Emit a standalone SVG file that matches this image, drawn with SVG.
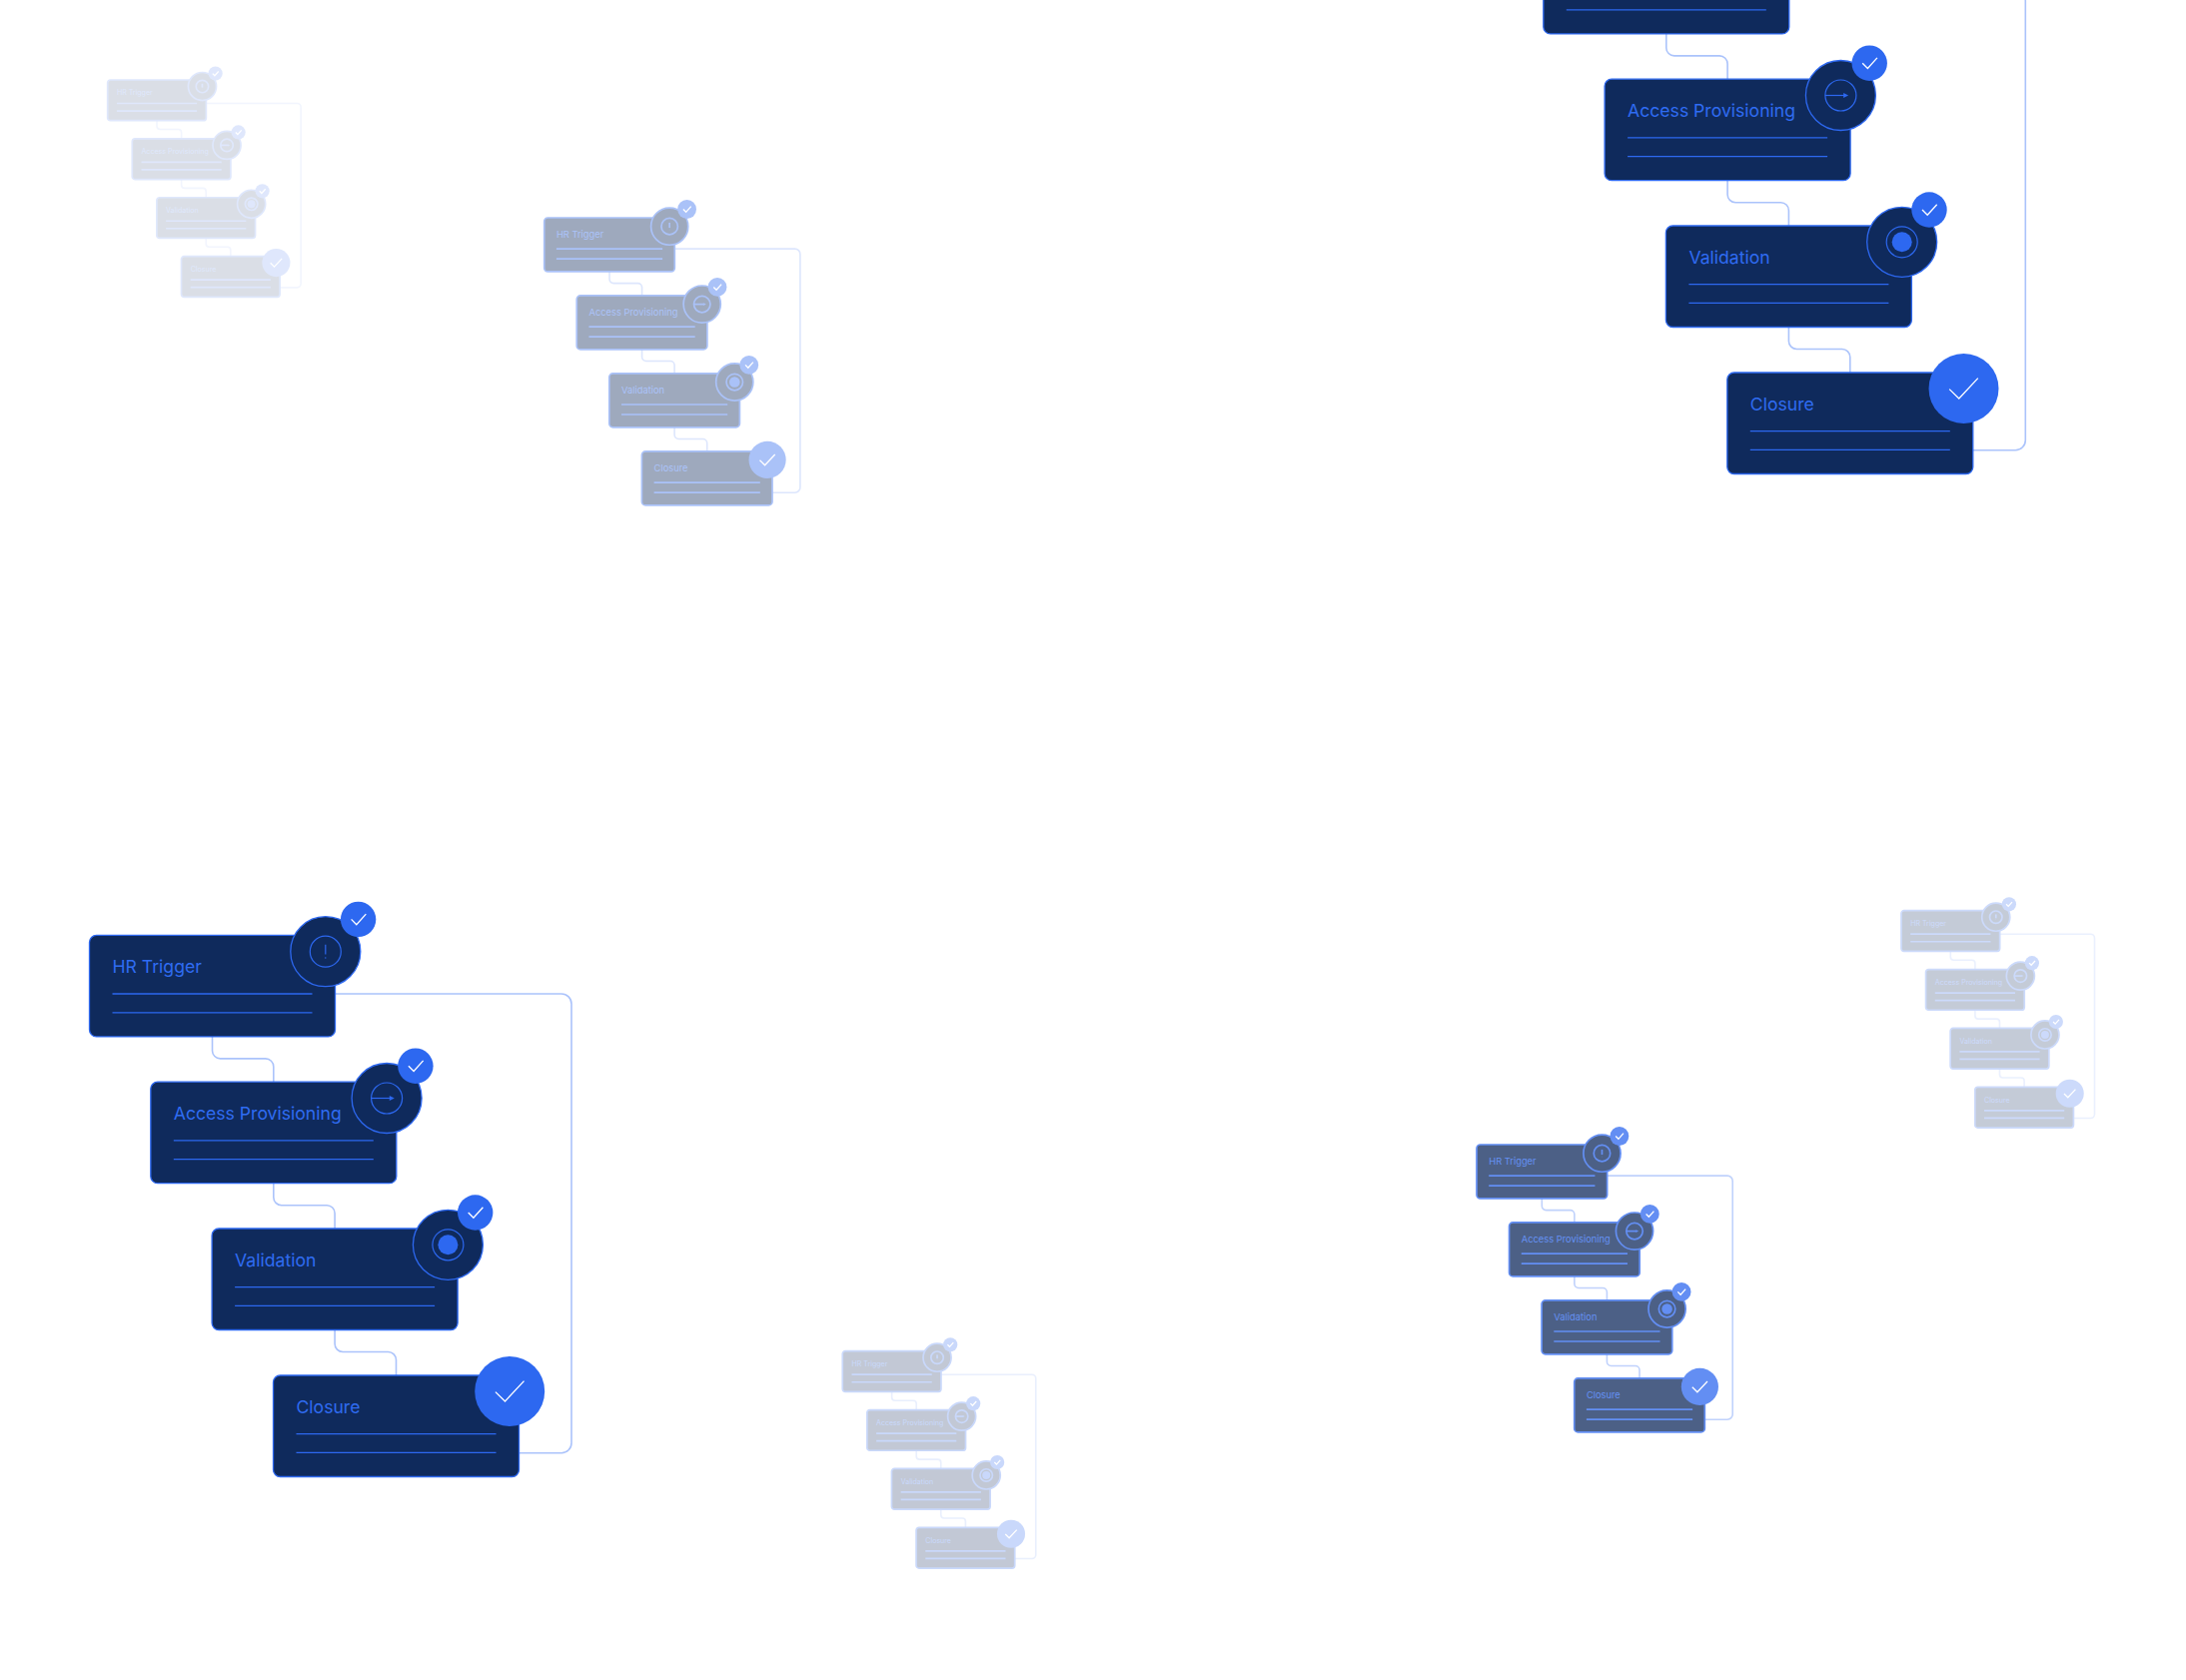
<svg xmlns="http://www.w3.org/2000/svg" width="2188" height="1682" viewBox="0 0 2188 1682">
<style>
.card,.ln,.disc,.ic,.ck,.cn{vector-effect:non-scaling-stroke}
.card{fill:#0f2a5c;stroke:#2d68f0;stroke-width:var(--sw,1.3)}
.t{font-family:Inter,"Liberation Sans",sans-serif;font-size:17.6px;font-weight:400;fill:#2f6cf2}
.ln{stroke:#2d68f0;stroke-width:var(--sw,1.3);fill:none}
.disc{fill:#0f2a5c;stroke:#2d68f0;stroke-width:var(--sw,1.3)}
.ic{fill:none;stroke:#2d68f0;stroke-width:var(--sw,1.2)}
.dot{fill:#2d68f0}
.ck{fill:none;stroke:#fff;stroke-width:1.3}
.cn{fill:none;stroke:#abc3fb;stroke-width:1.6}
.s{--sw:1.7}
</style>
<defs>
<rect id="card" class="card" x="0" y="0" width="246" height="101.5" rx="7"/>
<g id="lines"><path class="ln" d="M23 58.6H223M23 77.4H223"/></g>
<g id="chk"><circle class="dot" cx="263.6" cy="-16" r="17.7"/><path class="ck" d="M256.6-16L261.8-10.7L271.3-21.3"/></g>
<g id="b1"><circle class="disc" cx="236.3" cy="16.3" r="35"/><circle class="ic" cx="236.3" cy="16.3" r="15.5"/><path class="ic" d="M236.3 9.3V19"/><circle class="dot" cx="236.3" cy="22.6" r="0.7"/><use href="#chk" x="5.5"/></g>
<g id="b2"><circle class="disc" cx="236.3" cy="16.3" r="35"/><circle class="ic" cx="236.3" cy="16.3" r="15.5"/><path class="ic" d="M220.8 16.3H240"/><path class="dot" d="M239 13.8L244 16.3L239 18.8Z"/><use href="#chk" x="1.5"/></g>
<g id="b3"><circle class="disc" cx="236.3" cy="16.3" r="35"/><circle class="ic" cx="236.3" cy="16.3" r="15.5"/><circle class="dot" cx="236.3" cy="16.3" r="10"/><use href="#chk"/></g>
<g id="b4"><circle class="dot" cx="236.7" cy="16" r="35"/><path class="ck" d="M222.4 16.6L232 26L251 5.6"/></g>
<g id="wires">
<path class="cn" d="M246 58.6H472.5a10 10 0 0 1 10 10V508.3a10 10 0 0 1-10 10H430"/>
<path class="cn" d="M123 101.5V115.5a8 8 0 0 0 8 8H176.3a8 8 0 0 1 8 8V146.8"/>
<path class="cn" d="M184.3 248.3V262.3a8 8 0 0 0 8 8H237.6a8 8 0 0 1 8 8V293.6"/>
<path class="cn" d="M245.6 395.1V409.1a8 8 0 0 0 8 8H299a8 8 0 0 1 8 8V440.6"/>
</g>
</defs>
<rect width="2188" height="1682" fill="#fff"/>

<g id="flow-a" class="s" transform="translate(107.7 80) scale(.401)" opacity=".15">
<g id="a-connectors"><use href="#wires"/></g>
<g id="a-hr-trigger"><use href="#card"/><text class="t" x="23" y="38">HR Trigger</text><use href="#lines"/><use href="#b1"/></g>
<g id="a-access" transform="translate(61.3 146.8)"><use href="#card"/><text class="t" x="23" y="38">Access Provisioning</text><use href="#lines"/><use href="#b2"/></g>
<g id="a-validation" transform="translate(122.6 293.6)"><use href="#card"/><text class="t" x="23" y="38">Validation</text><use href="#lines"/><use href="#b3"/></g>
<g id="a-closure" transform="translate(184 440.6)"><use href="#card"/><text class="t" x="23" y="38">Closure</text><use href="#lines"/><use href="#b4"/></g>
</g>

<g id="flow-b" class="s" transform="translate(544.7 218) scale(.531)" opacity=".4">
<g id="b-connectors"><use href="#wires"/></g>
<g id="b-hr-trigger"><use href="#card"/><text class="t" x="23" y="38">HR Trigger</text><use href="#lines"/><use href="#b1"/></g>
<g id="b-access" transform="translate(61.3 146.8)"><use href="#card"/><text class="t" x="23" y="38">Access Provisioning</text><use href="#lines"/><use href="#b2"/></g>
<g id="b-validation" transform="translate(122.6 293.6)"><use href="#card"/><text class="t" x="23" y="38">Validation</text><use href="#lines"/><use href="#b3"/></g>
<g id="b-closure" transform="translate(184 440.6)"><use href="#card"/><text class="t" x="23" y="38">Closure</text><use href="#lines"/><use href="#b4"/></g>
</g>

<g id="flow-c" transform="translate(1544.8 -67.6)">
<g id="c-connectors"><use href="#wires"/></g>
<g id="c-hr-trigger"><use href="#card"/><path class="ln" d="M23 77.4H223"/></g>
<g id="c-access" transform="translate(61.3 146.8)"><use href="#card"/><text class="t" x="23" y="38">Access Provisioning</text><use href="#lines"/><use href="#b2"/></g>
<g id="c-validation" transform="translate(122.6 293.6)"><use href="#card"/><text class="t" x="23" y="38">Validation</text><use href="#lines"/><use href="#b3"/></g>
<g id="c-closure" transform="translate(184 440.6)"><use href="#card"/><text class="t" x="23" y="38">Closure</text><use href="#lines"/><use href="#b4"/></g>
</g>

<g id="flow-d" transform="translate(89.5 936.4)">
<g id="d-connectors"><use href="#wires"/></g>
<g id="d-hr-trigger"><use href="#card"/><text class="t" x="23" y="38">HR Trigger</text><use href="#lines"/><use href="#b1"/></g>
<g id="d-access" transform="translate(61.3 146.8)"><use href="#card"/><text class="t" x="23" y="38">Access Provisioning</text><use href="#lines"/><use href="#b2"/></g>
<g id="d-validation" transform="translate(122.6 293.6)"><use href="#card"/><text class="t" x="23" y="38">Validation</text><use href="#lines"/><use href="#b3"/></g>
<g id="d-closure" transform="translate(184 440.6)"><use href="#card"/><text class="t" x="23" y="38">Closure</text><use href="#lines"/><use href="#b4"/></g>
</g>

<g id="flow-e" class="s" transform="translate(843.3 1352.7) scale(.401)" opacity=".25">
<g id="e-connectors"><use href="#wires"/></g>
<g id="e-hr-trigger"><use href="#card"/><text class="t" x="23" y="38">HR Trigger</text><use href="#lines"/><use href="#b1"/></g>
<g id="e-access" transform="translate(61.3 146.8)"><use href="#card"/><text class="t" x="23" y="38">Access Provisioning</text><use href="#lines"/><use href="#b2"/></g>
<g id="e-validation" transform="translate(122.6 293.6)"><use href="#card"/><text class="t" x="23" y="38">Validation</text><use href="#lines"/><use href="#b3"/></g>
<g id="e-closure" transform="translate(184 440.6)"><use href="#card"/><text class="t" x="23" y="38">Closure</text><use href="#lines"/><use href="#b4"/></g>
</g>

<g id="flow-f" class="s" transform="translate(1478 1146) scale(.531)" opacity=".74">
<g id="f-connectors"><use href="#wires"/></g>
<g id="f-hr-trigger"><use href="#card"/><text class="t" x="23" y="38">HR Trigger</text><use href="#lines"/><use href="#b1"/></g>
<g id="f-access" transform="translate(61.3 146.8)"><use href="#card"/><text class="t" x="23" y="38">Access Provisioning</text><use href="#lines"/><use href="#b2"/></g>
<g id="f-validation" transform="translate(122.6 293.6)"><use href="#card"/><text class="t" x="23" y="38">Validation</text><use href="#lines"/><use href="#b3"/></g>
<g id="f-closure" transform="translate(184 440.6)"><use href="#card"/><text class="t" x="23" y="38">Closure</text><use href="#lines"/><use href="#b4"/></g>
</g>

<g id="flow-g" class="s" transform="translate(1903 911.7) scale(.401)" opacity=".24">
<g id="g-connectors"><use href="#wires"/></g>
<g id="g-hr-trigger"><use href="#card"/><text class="t" x="23" y="38">HR Trigger</text><use href="#lines"/><use href="#b1"/></g>
<g id="g-access" transform="translate(61.3 146.8)"><use href="#card"/><text class="t" x="23" y="38">Access Provisioning</text><use href="#lines"/><use href="#b2"/></g>
<g id="g-validation" transform="translate(122.6 293.6)"><use href="#card"/><text class="t" x="23" y="38">Validation</text><use href="#lines"/><use href="#b3"/></g>
<g id="g-closure" transform="translate(184 440.6)"><use href="#card"/><text class="t" x="23" y="38">Closure</text><use href="#lines"/><use href="#b4"/></g>
</g>
</svg>
